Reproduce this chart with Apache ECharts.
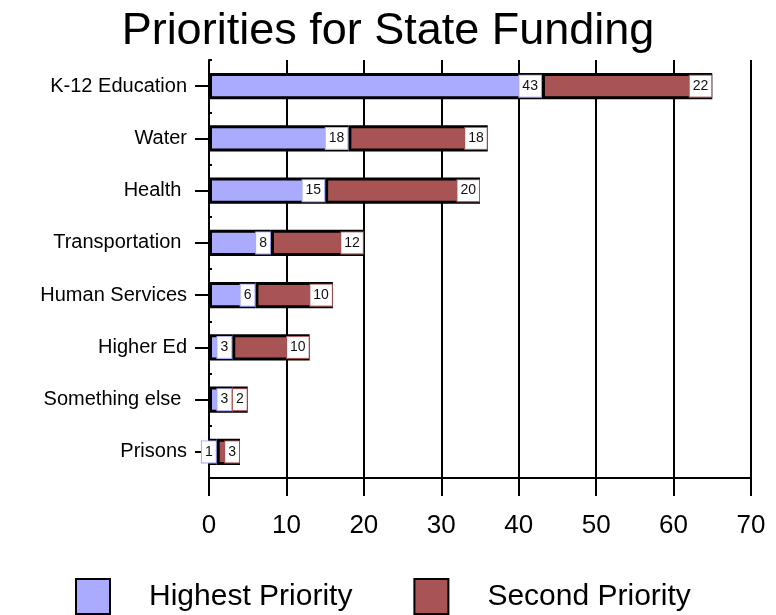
<!DOCTYPE html>
<html>
<head>
<meta charset="utf-8">
<script src="https://cdn.jsdelivr.net/npm/echarts@6/dist/echarts.min.js"></script>
<style>
  html, body { margin: 0; padding: 0; background: #fff; }
  #chart { width: 776px; height: 615px; }
</style>
</head>
<body>
<div id="chart"></div>
<script>
var categories = ['K-12 Education', 'Water', 'Health ', 'Transportation ', 'Human Services', 'Higher Ed', 'Something else ', 'Prisons'];
var highest = [43, 18, 15, 8, 6, 3, 3, 1];
var second = [22, 18, 20, 12, 10, 10, 2, 3];
var xTicks = [0, 10, 20, 30, 40, 50, 60, 70];

var blue = '#aaaaff';
var red = '#a85454';

var chartDom = document.getElementById('chart');
var myChart = echarts.init(chartDom);

function segLabel(color) {
  return {
    show: true,
    position: 'insideRight',
    distance: 1,
    color: '#111',
    fontFamily: 'Liberation Sans',
    fontSize: 14,
    backgroundColor: '#fff',
    borderColor: color,
    borderWidth: 1,
    padding: [0, 3],
    height: 21,
    lineHeight: 21
  };
}

var option = {
  animation: false,
  backgroundColor: '#fff',
  title: {
    text: 'Priorities for State Funding',
    left: 'center',
    top: 4,
    textStyle: { fontFamily: 'Liberation Sans', fontWeight: 'normal', fontSize: 45, color: '#000' }
  },
  legend: {
    left: 75,
    top: 578,
    padding: 0,
    itemWidth: 34,
    itemHeight: 35,
    itemGap: 61,
    icon: 'rect',
    textStyle: { fontFamily: 'Liberation Sans', fontSize: 30, color: '#000', padding: [0, 0, 0, 34] },
    data: ['Highest Priority', 'Second Priority']
  },
  grid: { left: 209, right: 25, top: 60, bottom: 137 },
  xAxis: {
    type: 'value',
    min: 0,
    max: 70,
    interval: 10,
    axisLine: { show: true, lineStyle: { color: '#000', width: 2 } },
    axisTick: { show: true, length: 18, lineStyle: { color: '#000', width: 2 } },
    splitLine: { show: true, lineStyle: { color: '#000', width: 2 } },
    axisLabel: {
      margin: 35,
      fontFamily: 'Liberation Sans',
      fontSize: 26,
      color: '#000',
      formatter: function (v) { return xTicks.indexOf(v) >= 0 ? String(v) : ''; }
    }
  },
  yAxis: [{
    type: 'category',
    inverse: true,
    data: categories,
    axisLine: { show: true, lineStyle: { color: '#000', width: 2 } },
    axisTick: { show: true, alignWithLabel: true, length: 14, lineStyle: { color: '#000', width: 2 } },
    axisLabel: { margin: 22, fontFamily: 'Liberation Sans', fontSize: 20, color: '#000' }
  }, {
    type: 'category',
    inverse: true,
    position: 'left',
    data: categories,
    axisLine: { show: false },
    axisLabel: { show: false },
    axisTick: { show: true, inside: true, length: 3, lineStyle: { color: '#000', width: 2 } }
  }],
  series: [
    {
      name: 'Highest Priority',
      type: 'bar',
      stack: 'total',
      barWidth: '50%',
      data: highest,
      itemStyle: { color: blue, borderColor: '#000', borderWidth: 3 },
      label: segLabel(blue)
    },
    {
      name: 'Second Priority',
      type: 'bar',
      stack: 'total',
      barWidth: '50%',
      data: second,
      itemStyle: { color: red, borderColor: '#000', borderWidth: 3 },
      label: segLabel(red)
    }
  ]
};
option && myChart.setOption(option);
</script>
</body>
</html>
